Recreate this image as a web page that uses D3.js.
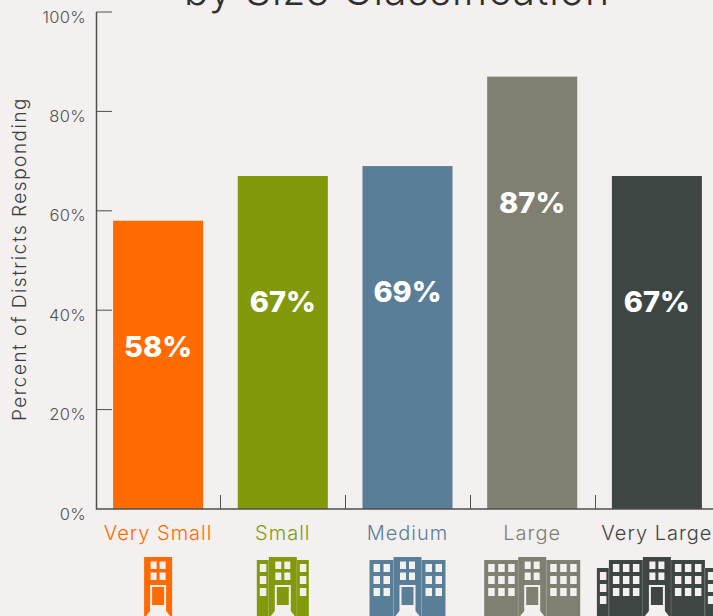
<!DOCTYPE html>
<meta charset='utf-8'>
<style>
  html, body { margin:0; padding:0; background:#f4f0f0; overflow:hidden; }
  svg { display:block; }
  text { font-family:Inter, 'Noto Sans', sans-serif; }
  .tick-label { font-size:16.5px; fill:#4f524f; font-weight:300; letter-spacing:.3px; }
  .axis-title { font-size:19px; fill:#3c3e3c; font-weight:300; letter-spacing:1.5px; }
  .cat-label { font-size:20px; font-weight:300; letter-spacing:1px; }
  .bar-label { font-size:29px; font-weight:800; fill:#fff; }
  .title { font-size:41px; fill:#2f2f2f; font-weight:300; letter-spacing:1px; }
</style>
<body>
  <script src='https://cdnjs.cloudflare.com/ajax/libs/d3/7.8.5/d3.min.js'></script>
  <script>

    var categories = ['Very Small', 'Small', 'Medium', 'Large', 'Very Large'];
    var values = [58, 67, 69, 87, 67];
    var colors = ['#ff6b00', '#83990c', '#5a7e98', '#807f71', '#3e4643'];
    var yTicks = [0, 20, 40, 60, 80, 100];
    // window columns in the wings either side of each building's tower
    var wingColumns = [[], [1], [2], [3], [3, 1]];

    var width = 713;
    var height = 616;
    var bg = '#f4f0f0';

    var svg = d3.select('body').append('svg')
      .attr('width', width)
      .attr('height', height);

    var x = d3.scaleBand()
      .domain(categories)
      .range([96, 719])
      .paddingInner(0.278)
      .paddingOuter(0.137);

    var y = d3.scaleLinear()
      .domain([0, 100])
      .range([509, 12]);

    var color = d3.scaleOrdinal().domain(categories).range(colors);

    svg.append('text')
      .attr('class', 'title')
      .attr('x', 184)
      .attr('y', 5)
      .text('by Size Classification');

    svg.selectAll('.bar')
      .data(categories)
      .enter().append('rect')
      .attr('class', 'bar')
      .attr('x', d => x(d))
      .attr('y', (d, i) => y(values[i]))
      .attr('width', x.bandwidth())
      .attr('height', (d, i) => y(0) - y(values[i]))
      .attr('fill', d => color(d));

    // labels hang a fixed distance below each bar's top
    svg.selectAll('.bar-label')
      .data(categories)
      .enter().append('text')
      .attr('class', 'bar-label')
      .attr('text-anchor', 'middle')
      .attr('x', d => x(d) + x.bandwidth() / 2)
      .attr('y', (d, i) => y(values[i]) + 136)
      .text((d, i) => values[i] + '%');

    // y axis
    var yAxis = svg.append('g').attr('fill', 'none');
    yAxis.append('path')
      .attr('d', d3.line()([[96.5, y(100)], [96.5, y(0)], [719, y(0)]]))
      .attr('stroke', '#4d504d')
      .attr('stroke-width', 1.5);
    yAxis.selectAll('.ytick')
      .data(yTicks.slice(1))
      .enter().append('line')
      .attr('class', 'ytick')
      .attr('x1', 96.5).attr('x2', 112)
      .attr('y1', d => y(d)).attr('y2', d => y(d))
      .attr('stroke', '#4d504d')
      .attr('stroke-width', 1);
    svg.selectAll('.tick-label')
      .data(yTicks)
      .enter().append('text')
      .attr('class', 'tick-label')
      .attr('text-anchor', 'end')
      .attr('x', 86)
      .attr('y', d => y(d) + 10.5)
      .text(d => d + '%');

    // category separators
    svg.selectAll('.xtick')
      .data(categories.slice(1))
      .enter().append('line')
      .attr('class', 'xtick')
      .attr('x1', d => Math.round(x(d) - x.step() * 0.139) + 0.5)
      .attr('x2', d => Math.round(x(d) - x.step() * 0.139) + 0.5)
      .attr('y1', 495).attr('y2', y(0))
      .attr('stroke', '#4d504d');

    svg.append('text')
      .attr('class', 'axis-title')
      .attr('text-anchor', 'middle')
      .attr('transform', 'translate(26,259) rotate(-90)')
      .text('Percent of Districts Responding');

    svg.selectAll('.cat-label')
      .data(categories)
      .enter().append('text')
      .attr('class', 'cat-label')
      .attr('text-anchor', 'middle')
      .attr('x', d => x(d) + x.bandwidth() / 2)
      .attr('y', 540)
      .attr('fill', d => color(d))
      .text(d => d);

    // one window block: cols x rows of small squares
    function windows(g, left, top, cols, rows, w, h, dx, dy) {
      d3.range(cols).forEach(c => {
        d3.range(rows).forEach(r => {
          g.append('rect')
            .attr('x', left + c * dx).attr('y', top + r * dy)
            .attr('width', w).attr('height', h)
            .attr('fill', bg);
        });
      });
    }

    function building(d, i) {
      var g = d3.select(this);
      var c = color(d);
      var cx = x(d) + x.bandwidth() / 2;

      // wings, outermost last so the offsets add up from the tower
      [-1, 1].forEach(side => {
        var edge = cx + side * 14;
        wingColumns[i].forEach((cols, k) => {
          var w = cols === 1 ? 12 : cols * 10 + 4;
          var left = side > 0 ? edge : edge - w;
          var top = k === 0 ? 560 : 568;
          g.append('rect')
            .attr('x', left).attr('y', top)
            .attr('width', w).attr('height', 616 - top)
            .attr('fill', c);
          g.append('line')
            .attr('x1', edge).attr('x2', edge)
            .attr('y1', top).attr('y2', 616)
            .attr('stroke', bg).attr('stroke-opacity', 0.25);
          windows(g, left + (cols === 1 ? 3 : 4), top + 4, cols, 3, 6.5, 8, 10, 12);
          edge += side * w;
        });
      });

      // tower
      g.append('rect')
        .attr('x', cx - 14).attr('y', 557)
        .attr('width', 28).attr('height', 59)
        .attr('fill', c);
      windows(g, cx - 7.5, 561.5, 2, 2, 6, 7.5, 9, 11);

      // door with its light path
      g.append('path')
        .attr('d', d3.line()([[cx - 8, 585], [cx + 8, 585], [cx + 8, 611], [cx + 12, 616], [cx - 12, 616], [cx - 8, 611]]))
        .attr('fill', bg);
      g.append('rect')
        .attr('x', cx - 6).attr('y', 587)
        .attr('width', 12).attr('height', 18)
        .attr('fill', c);
    }

    svg.selectAll('.building')
      .data(categories)
      .enter().append('g')
      .attr('class', 'building')
      .each(building);
  </script>
</body>
